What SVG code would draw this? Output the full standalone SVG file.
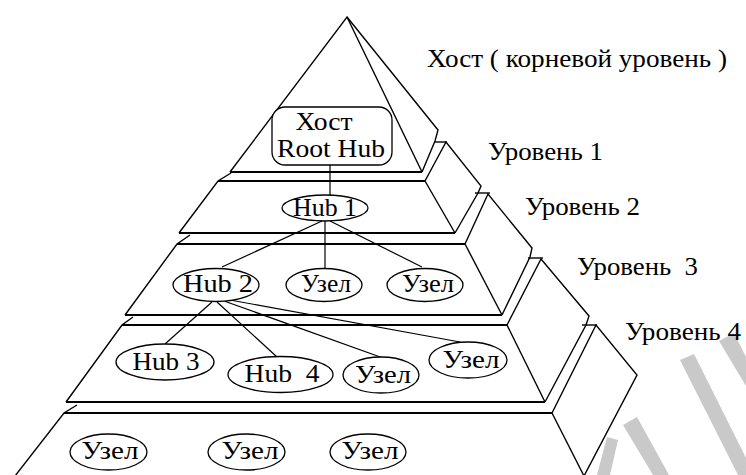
<svg xmlns="http://www.w3.org/2000/svg" width="746" height="475" viewBox="0 0 746 475">
  <style>
    .edge { fill: none; stroke: #000; stroke-width: 1.4; stroke-linejoin: miter; }
    .rim { fill: none; stroke: #000; stroke-width: 1.8; }
    .node { fill: #fff; stroke: #000; stroke-width: 1.3; }
    .wire { fill: none; stroke: #000; stroke-width: 1.2; }
    .lbl { font-family: "Liberation Serif", "DejaVu Serif", serif; font-size: 25px; fill: #000; }
    .nl { font-family: "Liberation Serif", "DejaVu Serif", serif; font-size: 25px; fill: #000; text-anchor: middle; }
    .mark { fill: #c9c9c9; }
  </style>
  <rect width="746" height="475" fill="#fff"/>

  <!-- faint grey stripes in the lower right corner -->
  <g id="stripes">
    <polygon class="mark" points="597,475 607,437 618,440 610,475"/>
    <polygon class="mark" points="623,425 637,417 669,475 653,475"/>
    <polygon class="mark" points="680,360 694,354 746,458 746,475 738,475"/>
    <polygon class="mark" points="719,341 734,333 746,357 746,386"/>
  </g>

  <!-- pyramid layers: front faces, right faces and the small steps between them -->
  <g id="pyramid">
    <!-- layer 0 (apex) -->
    <path class="edge" d="M230,172 L347,17 L422,172"/>
    <path class="edge" d="M347,17 L438,130 L435,141 L422,172"/>
    <path class="edge" d="M435,142 H447"/>
    <!-- layer 1 -->
    <path class="edge" d="M231,173 L218,181 L179,233"/>
    <path class="edge" d="M425,181 L455,233"/>
    <path class="edge" d="M425,181 L446,142 L481,186 L478,193 L455,233"/>
    <path class="edge" d="M475,193 H490"/>
    <!-- layer 2 -->
    <path class="edge" d="M190,235 L177,244 L125,315"/>
    <path class="edge" d="M465,244 L502,315"/>
    <path class="edge" d="M465,244 L488,194 L532,248 L530,257 L502,315"/>
    <path class="edge" d="M528,258 H543"/>
    <!-- layer 3 -->
    <path class="edge" d="M133,317 L122,325 L66,402"/>
    <path class="edge" d="M507,325 L545,402"/>
    <path class="edge" d="M507,325 L541,259 L589,316 L586,325 L545,402"/>
    <path class="edge" d="M582,325 H597"/>
    <!-- layer 4 (base) -->
    <path class="edge" d="M77,405 L64,413 L15,476"/>
    <path class="edge" d="M552,413 L584,476"/>
    <path class="edge" d="M552,413 L596,325 L637,375 L584,476"/>
    <!-- horizontal rims -->
    <path class="rim" d="M230,172 H422"/>
    <path class="rim" d="M218,181 H425"/>
    <path class="rim" d="M179,233 H455"/>
    <path class="rim" d="M177,244 H465"/>
    <path class="rim" d="M125,315 H502"/>
    <path class="rim" d="M122,325 H507"/>
    <path class="rim" d="M66,402 H545"/>
    <path class="rim" d="M64,413 H552"/>
  </g>

  <!-- connectors -->
  <g id="connectors">
    <path class="wire" d="M330,165 V196"/>
    <path class="wire" d="M322,221 L222,267"/>
    <path class="wire" d="M325,221 V268"/>
    <path class="wire" d="M330,221 L422,267"/>
    <path class="wire" d="M212,302 L165,344"/>
    <path class="wire" d="M217,302 L277,357"/>
    <path class="wire" d="M224,301 L383,358"/>
    <path class="wire" d="M230,300 L460,342"/>
  </g>

  <!-- nodes -->
  <g id="root-hub">
    <rect class="node" x="272" y="107" width="120" height="58" rx="13"/>
    <text class="nl" x="324" y="130" textLength="57" lengthAdjust="spacingAndGlyphs">Хост</text>
    <text class="nl" x="331" y="157" textLength="108" lengthAdjust="spacingAndGlyphs">Root Hub</text>
  </g>
  <g id="hub1">
    <ellipse class="node" cx="325" cy="208" rx="43" ry="13"/>
    <text class="nl" x="325" y="216" textLength="64" lengthAdjust="spacingAndGlyphs">Hub 1</text>
  </g>
  <g id="hub2">
    <ellipse class="node" cx="216" cy="285" rx="43" ry="16.5"/>
    <text class="nl" x="218" y="292" textLength="70" lengthAdjust="spacingAndGlyphs">Hub 2</text>
  </g>
  <g id="node-l2-a">
    <ellipse class="node" cx="324" cy="285" rx="38" ry="16.5"/>
    <text class="nl" x="326" y="292" textLength="50" lengthAdjust="spacingAndGlyphs">Узел</text>
  </g>
  <g id="node-l2-b">
    <ellipse class="node" cx="425" cy="285" rx="38" ry="16.5"/>
    <text class="nl" x="428" y="292" textLength="52" lengthAdjust="spacingAndGlyphs">Узел</text>
  </g>
  <g id="hub3">
    <ellipse class="node" cx="165" cy="362" rx="49" ry="18"/>
    <text class="nl" x="166" y="370" textLength="67" lengthAdjust="spacingAndGlyphs">Hub 3</text>
  </g>
  <g id="hub4">
    <ellipse class="node" cx="280.5" cy="374.5" rx="52.5" ry="18"/>
    <text class="nl" x="282" y="382" textLength="75" lengthAdjust="spacingAndGlyphs" xml:space="preserve">Hub  4</text>
  </g>
  <g id="node-l3-a">
    <ellipse class="node" cx="381" cy="375" rx="38" ry="18"/>
    <text class="nl" x="383" y="383" textLength="56" lengthAdjust="spacingAndGlyphs">Узел</text>
  </g>
  <g id="node-l3-b">
    <ellipse class="node" cx="468" cy="360" rx="39" ry="18"/>
    <text class="nl" x="471" y="368" textLength="57" lengthAdjust="spacingAndGlyphs">Узел</text>
  </g>
  <g id="node-l4-a">
    <ellipse class="node" cx="108.5" cy="452" rx="38.5" ry="18"/>
    <text class="nl" x="110" y="459" textLength="57" lengthAdjust="spacingAndGlyphs">Узел</text>
  </g>
  <g id="node-l4-b">
    <ellipse class="node" cx="246.5" cy="452" rx="38.5" ry="18"/>
    <text class="nl" x="250" y="459" textLength="57" lengthAdjust="spacingAndGlyphs">Узел</text>
  </g>
  <g id="node-l4-c">
    <ellipse class="node" cx="368" cy="452" rx="38" ry="18"/>
    <text class="nl" x="370" y="459" textLength="57" lengthAdjust="spacingAndGlyphs">Узел</text>
  </g>

  <!-- level captions -->
  <g id="captions">
    <text class="lbl" x="427" y="67" textLength="300" lengthAdjust="spacingAndGlyphs" xml:space="preserve">Хост ( корневой уровень )</text>
    <text class="lbl" x="488" y="160" textLength="115" lengthAdjust="spacingAndGlyphs">Уровень 1</text>
    <text class="lbl" x="525" y="215" textLength="115" lengthAdjust="spacingAndGlyphs">Уровень 2</text>
    <text class="lbl" x="577" y="275" textLength="121" lengthAdjust="spacingAndGlyphs" xml:space="preserve">Уровень  3</text>
    <text class="lbl" x="625" y="340" textLength="116" lengthAdjust="spacingAndGlyphs">Уровень 4</text>
  </g>
</svg>
